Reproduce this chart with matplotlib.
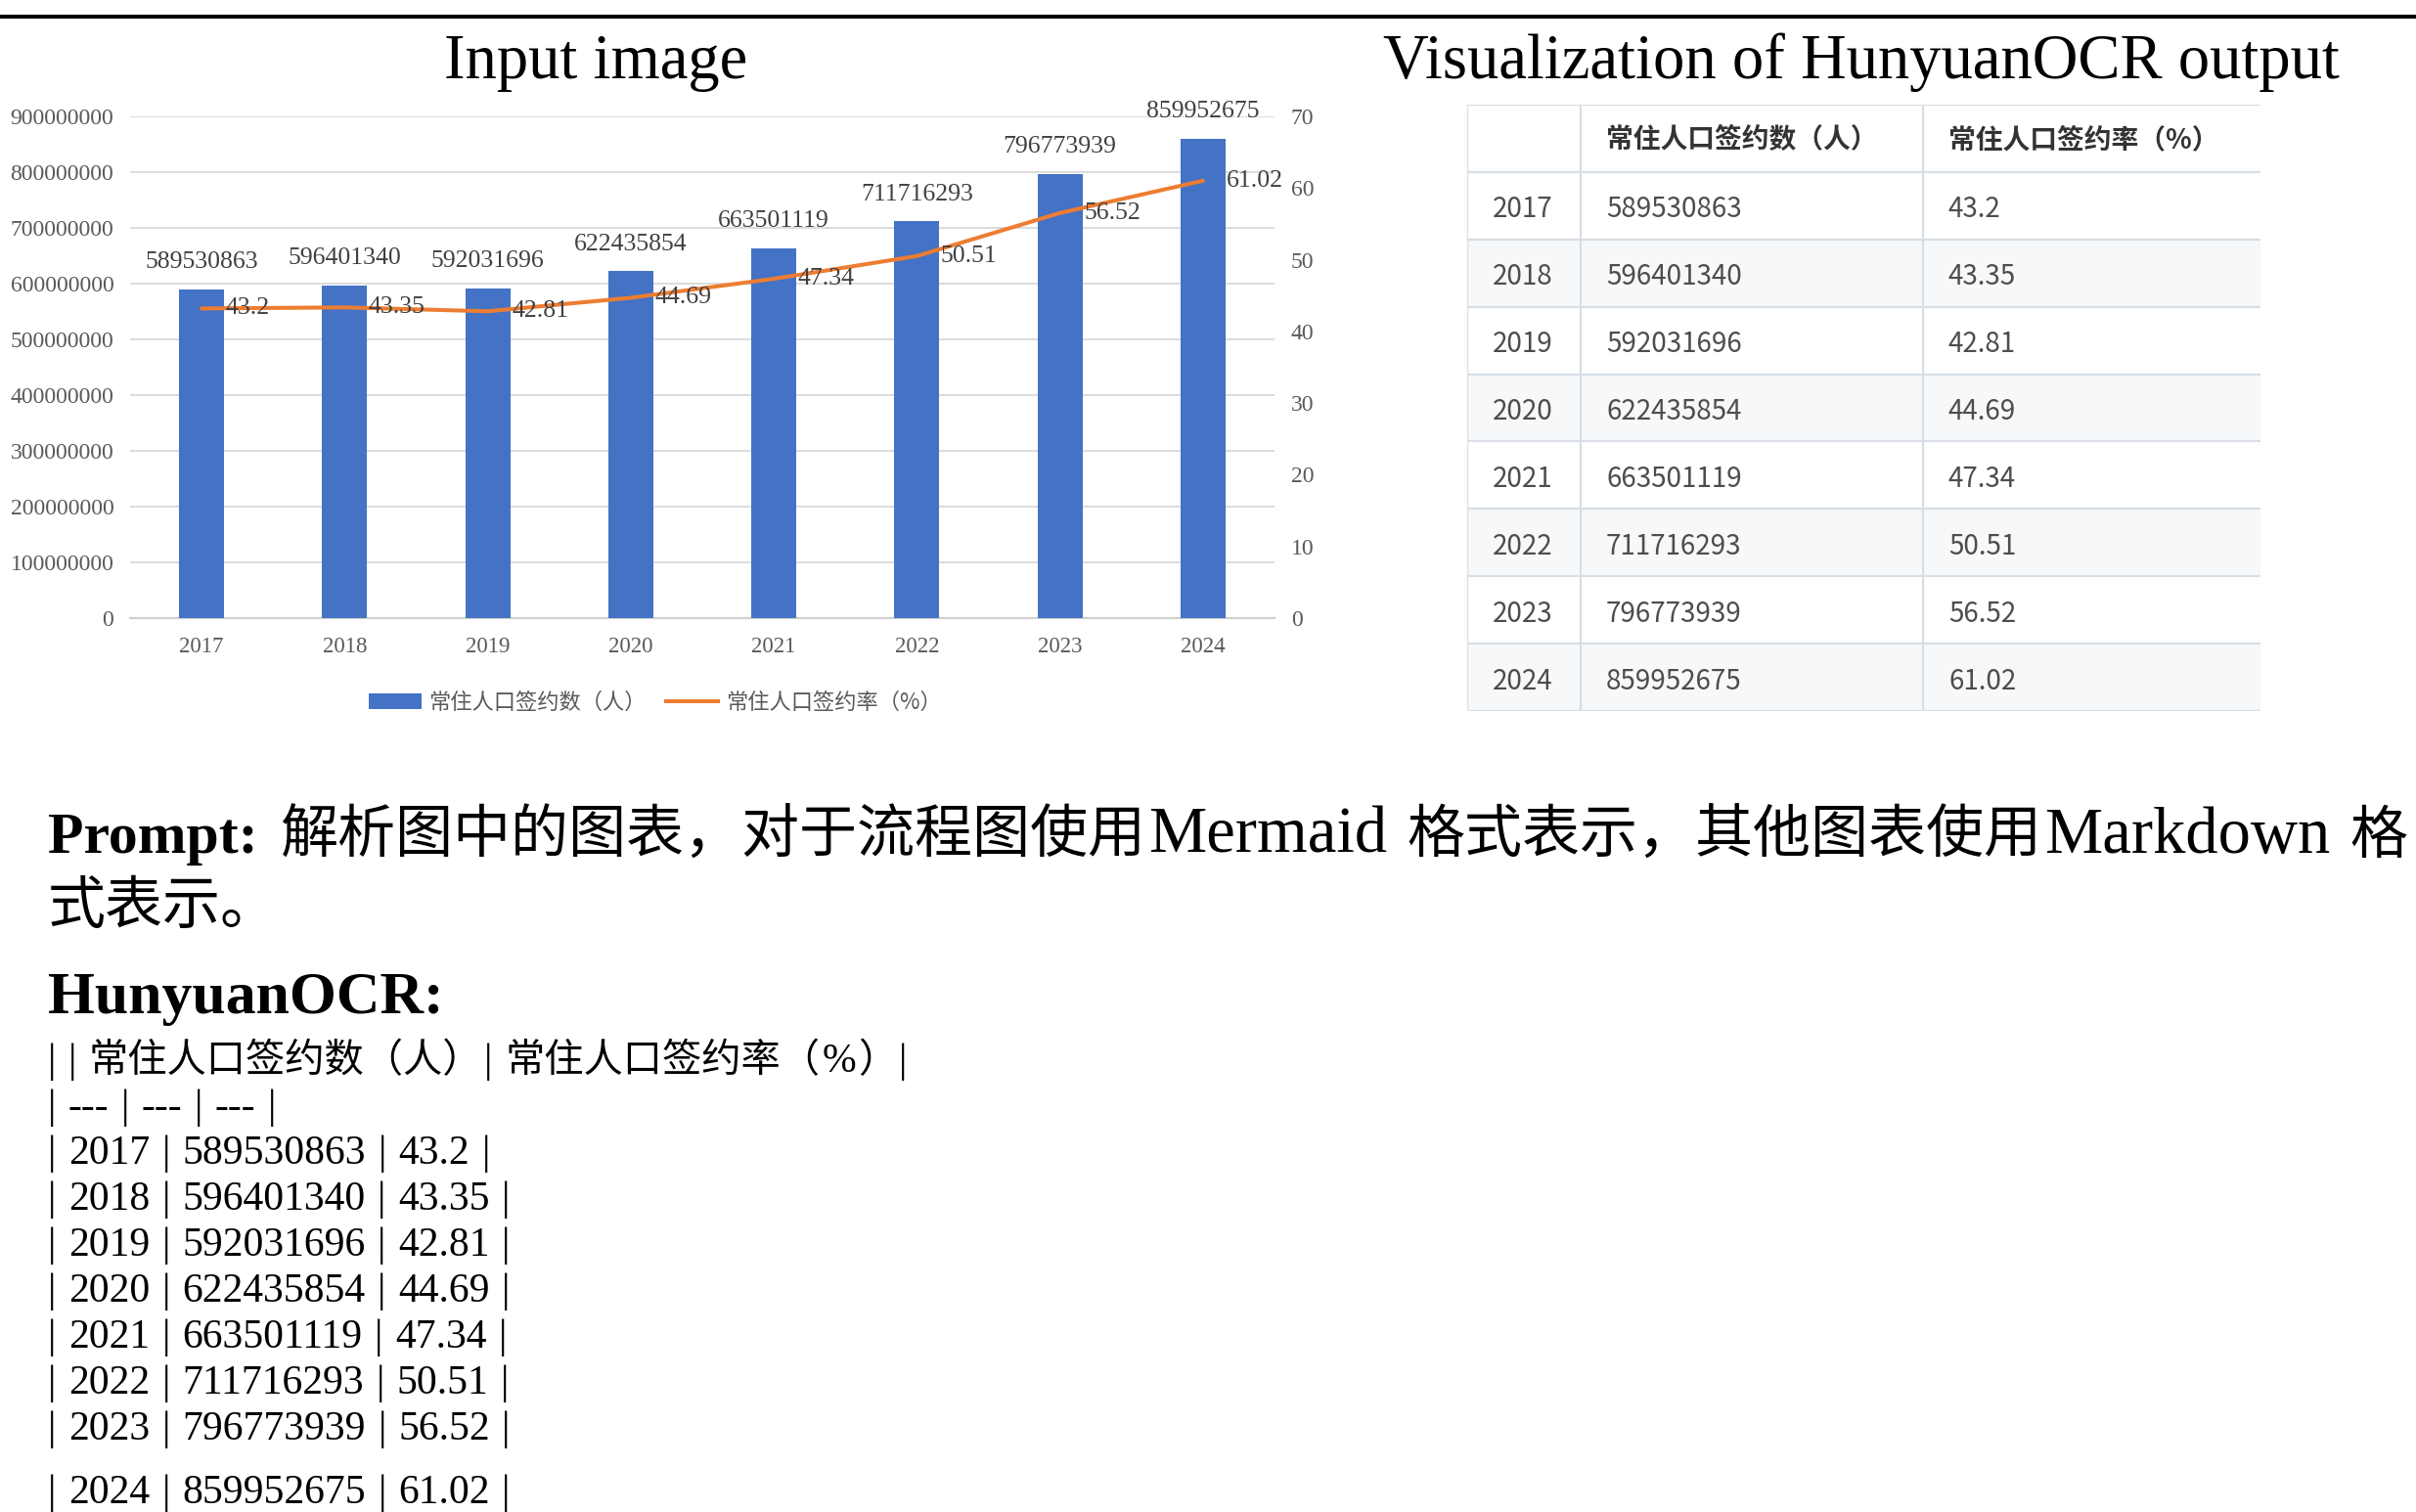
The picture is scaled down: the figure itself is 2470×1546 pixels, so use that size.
import numpy as np
import matplotlib
matplotlib.use("Agg")
import matplotlib.pyplot as plt
from matplotlib.patches import Patch, Rectangle
from matplotlib.lines import Line2D

# ---------------- data ----------------
years = ["2017", "2018", "2019", "2020", "2021", "2022", "2023", "2024"]
counts = [589530863, 596401340, 592031696, 622435854, 663501119, 711716293, 796773939, 859952675]
rates = [43.2, 43.35, 42.81, 44.69, 47.34, 50.51, 56.52, 61.02]
count_label = "常住人口签约数（人）"
rate_label = "常住人口签约率（%）"
left_ticks = [0, 100000000, 200000000, 300000000, 400000000, 500000000,
              600000000, 700000000, 800000000, 900000000]
right_ticks = [0, 10, 20, 30, 40, 50, 60, 70]
title_left = "Input image"
title_right = "Visualization of HunyuanOCR output"
prompt_head = "Prompt:"
prompt_line1 = "解析图中的图表，对于流程图使用Mermaid 格式表示，其他图表使用Markdown 格"
prompt_line2 = "式表示。"
answer_head = "HunyuanOCR:"

# ---------------- style ----------------
plt.rcParams["font.family"] = ["Liberation Serif", "Noto Sans CJK SC"]
W, H = 2470, 1546
BLUE = "#4472C4"
ORANGE = "#ED7D31"
TICK_C = "#595959"
LAB_C = "#404040"
CJK = ["Noto Sans CJK SC"]
SERIF = ["Liberation Serif", "Noto Sans CJK SC"]


def fx(px):
    return px / W


def fy(py):
    return 1 - py / H


fig = plt.figure(figsize=(W / 100, H / 100), dpi=100)
fig.patch.set_facecolor("white")
renderer = fig.canvas.get_renderer()


def is_cjk(ch):
    return ord(ch) >= 0x2E80


def mixed_text(x_px, y_px, s, latin_size, cjk_size, weight="normal"):
    """Draw s starting at (x_px, baseline y_px), Latin runs in serif, CJK runs in Noto CJK."""
    runs = []
    for ch in s:
        kind = "space" if ch == " " else ("cjk" if is_cjk(ch) else "latin")
        if runs and runs[-1][0] == kind:
            runs[-1][1] += ch
        else:
            runs.append([kind, ch])
    x = x_px
    for kind, run in runs:
        if kind == "space":
            x += len(run) * 0.25 * latin_size * 100 / 72
            continue
        if kind == "cjk":
            fam, size = CJK, cjk_size
        else:
            fam, size = ["Liberation Serif"], latin_size
        t = fig.text(fx(x), fy(y_px), run, ha="left", va="baseline",
                     fontsize=size, family=fam, fontweight=weight, color="black")
        w = t.get_window_extent(renderer).width
        x += w + 0.05 * size * 100 / 72
    return x


# top rule
fig.add_artist(Line2D([0, 1], [fy(17), fy(17)], color="black", lw=2.9,
                      transform=fig.transFigure))

# titles
fig.text(fx(609), fy(80), title_left, ha="center", va="baseline", fontsize=46.5, family=SERIF)
fig.text(fx(1903), fy(80), title_right, ha="center", va="baseline", fontsize=46.5, family=SERIF)

# ---------------- chart ----------------
ax = fig.add_axes([fx(133), fy(632), (1303 - 133) / W, (632 - 119) / H])
x = np.arange(len(years))
BW = 0.315
ax.bar(x, counts, width=BW, color=BLUE, zorder=3)
ax.set_xlim(-0.5, len(years) - 0.5)
ax.set_ylim(left_ticks[0], left_ticks[-1])
ax.set_yticks(left_ticks)
ax.set_yticklabels([str(t) for t in left_ticks])
ax.set_xticks(x)
ax.set_xticklabels(years)
ax.yaxis.grid(True, color="#d9d9d9", lw=1.3)
ax.set_axisbelow(True)
for s in ["top", "left", "right"]:
    ax.spines[s].set_visible(False)
ax.spines["bottom"].set_color("#d0d0d0")
ax.spines["bottom"].set_linewidth(1.6)
ax.tick_params(axis="y", length=0, pad=12, labelsize=17, labelcolor=TICK_C)
ax.tick_params(axis="x", length=0, pad=14, labelsize=16.5, labelcolor=TICK_C)
for xi, c in zip(x, counts):
    ax.annotate(str(c), (xi, c), xytext=(0, 12), textcoords="offset points",
                ha="center", va="bottom", fontsize=18.5, color=LAB_C, zorder=5)

ax2 = ax.twinx()
ax2.set_ylim(right_ticks[0], right_ticks[-1])
ax2.set_yticks(right_ticks)
ax2.set_yticklabels([str(t) for t in right_ticks])
for s in ax2.spines.values():
    s.set_visible(False)
ax2.tick_params(axis="y", length=0, pad=12, labelsize=17, labelcolor=TICK_C)
ax2.plot(x, rates, color=ORANGE, lw=2.9, solid_capstyle="round", zorder=4)
for xi, r in zip(x, rates):
    ax2.text(xi + BW / 2 + 0.01, r, f"{r:g}", ha="left", va="center", fontsize=18.5,
             color=LAB_C, zorder=5)

handles = [Patch(facecolor=BLUE, edgecolor="none"),
           Line2D([], [], color=ORANGE, lw=2.9)]
fig.legend(handles, [count_label, rate_label], loc="center",
           bbox_to_anchor=(fx(670), fy(718)), bbox_transform=fig.transFigure,
           ncol=2, frameon=False, prop={"family": CJK, "size": 16},
           handlelength=2.4, handleheight=0.7, handletextpad=0.35,
           columnspacing=0.9, labelcolor=TICK_C)

# ---------------- table ----------------
tx0, tx1, ty0, ty1 = 1500, 2311, 107, 727
tax = fig.add_axes([fx(tx0), fy(ty1), (tx1 - tx0) / W, (ty1 - ty0) / H])
TW = tx1 - tx0
nrows = len(years) + 1
tax.set_xlim(0, TW)
tax.set_ylim(nrows, 0)
tax.axis("off")
col_edges = [0, 116, 466]
BORDER = "#d8dee4"
for i in range(len(years)):
    if i % 2 == 1:
        tax.add_patch(Rectangle((0, i + 1), TW, 1, facecolor="#f6f8fa",
                                edgecolor="none", zorder=1))
for k in range(nrows + 1):
    tax.plot([0, TW], [k, k], color=BORDER, lw=1.6, zorder=2,
             solid_capstyle="butt")
for ce in col_edges:
    tax.plot([ce, ce], [0, nrows], color=BORDER, lw=1.6, zorder=2,
             solid_capstyle="butt")
PADX = 26
tax.text(col_edges[1] + PADX, 0.52, count_label, ha="left", va="center",
         fontsize=20, fontweight="bold", color="#333333", family=CJK, zorder=3)
tax.text(col_edges[2] + PADX, 0.52, rate_label, ha="left", va="center",
         fontsize=20, fontweight="bold", color="#333333", family=CJK, zorder=3)
for i, (yr, c, r) in enumerate(zip(years, counts, rates)):
    yc = i + 1.56
    for ce, s in zip(col_edges, [yr, str(c), f"{r:g}"]):
        tax.text(ce + PADX, yc, s, ha="left", va="center", fontsize=20,
                 color="#4d4d4d", family=CJK, zorder=3)

# ---------------- text below ----------------
fig.text(fx(49), fy(872), prompt_head, ha="left", va="baseline", fontsize=43,
         fontweight="bold", family=SERIF)
mixed_text(286, 872, prompt_line1, 48, 42.5)
mixed_text(49, 944, prompt_line2, 48, 42.5)
fig.text(fx(49), fy(1036), answer_head, ha="left", va="baseline", fontsize=44.5,
         fontweight="bold", family=SERIF)

md_lines = [f"| | {count_label}| {rate_label}|", "| --- | --- | --- |"]
md_lines += [f"| {yr} | {c} | {r:g} |" for yr, c, r in zip(years, counts, rates)]
base = 1096
step = 47
for k, line in enumerate(md_lines):
    yb = base + step * k
    if k == len(md_lines) - 1:
        yb += 18
    mixed_text(49, yb, line, 30, 29)

fig.savefig("out.png", dpi=100, facecolor="white")
